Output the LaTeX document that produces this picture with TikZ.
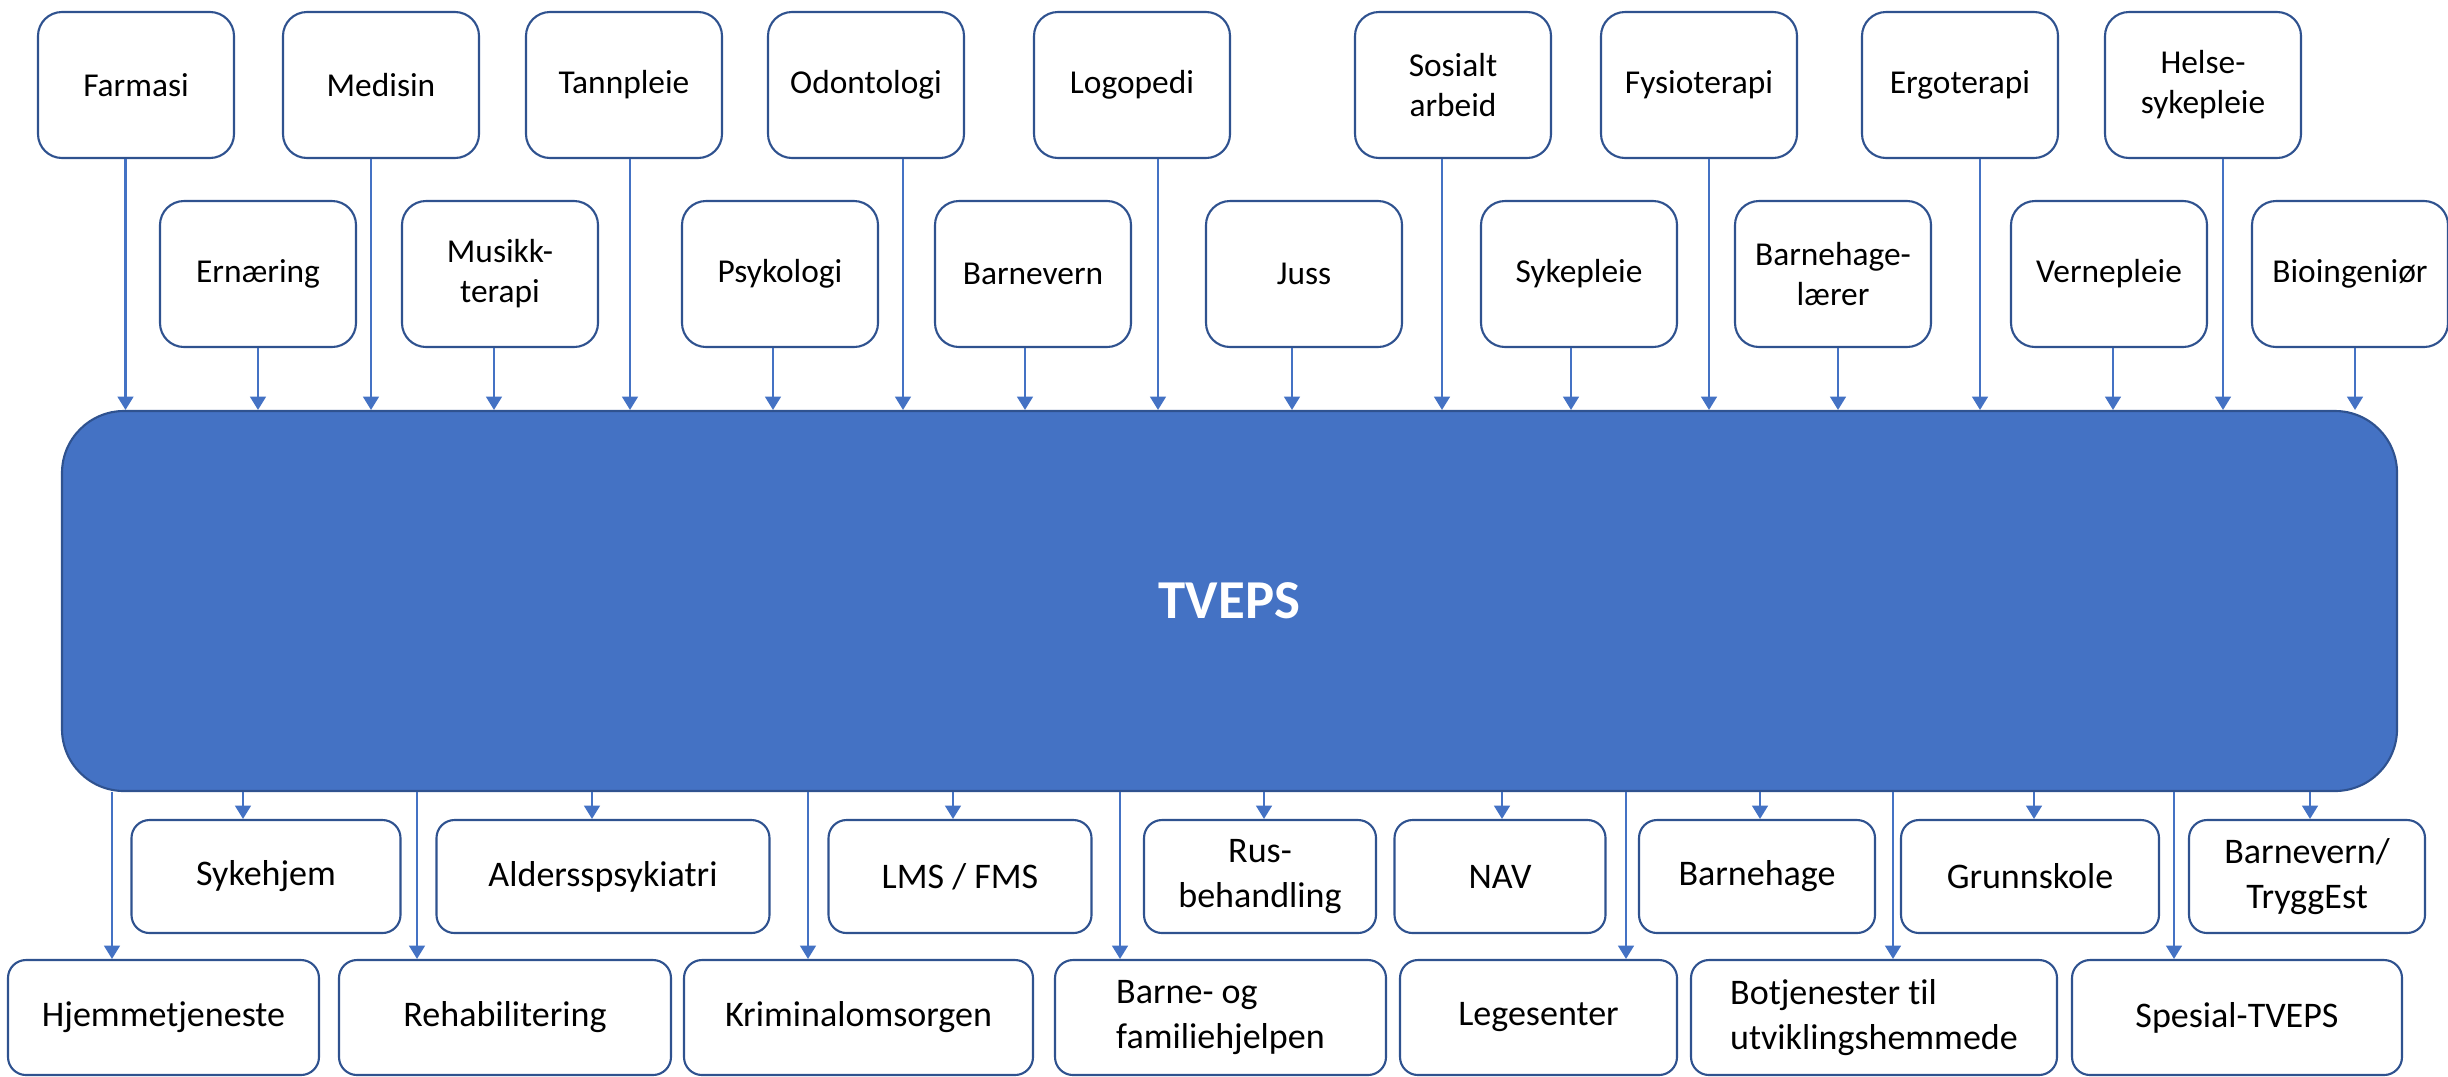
\documentclass[tikz,border=0pt]{standalone}
\usepackage{fontspec}
\setmainfont{Carlito}[Ligatures=NoCommon]
\usepackage{tikz}
\usetikzlibrary{arrows.meta}

\definecolor{kant}{HTML}{2F528F}
\definecolor{fyll}{HTML}{4472C4}

\begin{document}
\begin{tikzpicture}[->,>={Triangle[width=4.5pt,length=3.8pt]},
	fagnode/.style={rectangle,draw=kant,line width=0.6pt,rounded corners=0.24cm,minimum width=1.96cm,minimum height=1.46cm,align=center,font=\fontsize{9.5}{11.4}\selectfont},
	tjenestenode/.style={rectangle,draw=kant,line width=0.6pt,rounded corners=0.18cm,minimum height=1.13cm,align=center,font=\fontsize{10.25}{12.8}\selectfont},
	hovednode/.style={rectangle,draw=kant,fill=fyll,line width=0.6pt,rounded corners=0.62cm,minimum width=23.35cm,minimum height=3.8cm,text=white,font=\fontsize{15.6}{18}\selectfont\bfseries},
	pil/.style={draw=fyll,line width=0.6pt}]
	
	\useasboundingbox (0,0) rectangle (24.48,-10.76);
	
	% utdanninger, øverste rad
	\node [fagnode] (farmasi) at (1.36, -0.85) {Farmasi};
	\node [fagnode] (medisin) at (3.81, -0.85) {Medisin};
	\node [fagnode] (tannpleie) at (6.24, -0.85) {Tannpleie};
	\node [fagnode] (odontologi) at (8.66, -0.85) {Odontologi};
	\node [fagnode] (logopedi) at (11.32, -0.85) {Logopedi};
	\node [fagnode] (sosialt) at (14.53, -0.85) {Sosialt\\arbeid};
	\node [fagnode] (fysio) at (16.99, -0.85) {Fysioterapi};
	\node [fagnode] (ergo) at (19.60, -0.85) {Ergoterapi};
	\node [fagnode] (helse) at (22.03, -0.85) {Helse-\\sykepleie};
	
	% utdanninger, andre rad
	\node [fagnode] (ernaering) at (2.58, -2.74) {Ernæring};
	\node [fagnode] (musikk) at (5.00, -2.74) {Musikk-\\terapi};
	\node [fagnode] (psykologi) at (7.80, -2.74) {Psykologi};
	\node [fagnode] (barnevern) at (10.33, -2.74) {Barnevern};
	\node [fagnode] (juss) at (13.04, -2.74) {Juss};
	\node [fagnode] (sykepleie) at (15.79, -2.74) {Sykepleie};
	\node [fagnode] (bhglaerer) at (18.33, -2.74) {Barnehage-\\lærer};
	\node [fagnode] (vernepleie) at (21.09, -2.74) {Vernepleie};
	\node [fagnode] (bioing) at (23.50, -2.74) {Bioingeniør};
	
	\node [hovednode] (tveps) at (12.295, -6.01) {TVEPS};
	
	% praksissteder, første rad
	\node [tjenestenode, minimum width=2.69cm] (sykehjem) at (2.66, -8.765) {Sykehjem};
	\node [tjenestenode, minimum width=3.33cm] (alder) at (6.03, -8.765) {Aldersspsykiatri};
	\node [tjenestenode, minimum width=2.63cm] (lms) at (9.60, -8.765) {LMS / FMS};
	\node [tjenestenode, minimum width=2.32cm] (rus) at (12.60, -8.765) {Rus-\\behandling};
	\node [tjenestenode, minimum width=2.11cm] (nav) at (15.00, -8.765) {NAV};
	\node [tjenestenode, minimum width=2.36cm] (barnehage) at (17.57, -8.765) {Barnehage};
	\node [tjenestenode, minimum width=2.58cm] (grunnskole) at (20.30, -8.765) {Grunnskole};
	\node [tjenestenode, minimum width=2.36cm] (tryggest) at (23.07, -8.765) {Barnevern/\\TryggEst};
	
	% praksissteder, andre rad
	\node [tjenestenode, minimum width=3.11cm, minimum height=1.15cm] (hjemme) at (1.635, -10.175) {Hjemmetjeneste};
	\node [tjenestenode, minimum width=3.32cm, minimum height=1.15cm] (rehab) at (5.05, -10.175) {Rehabilitering};
	\node [tjenestenode, minimum width=3.49cm, minimum height=1.15cm] (krim) at (8.585, -10.175) {Kriminalomsorgen};
	\node [tjenestenode, minimum width=3.31cm, minimum height=1.15cm, align=left] (barnefam) at (12.205, -10.175) {Barne- og\\familiehjelpen};
	\node [tjenestenode, minimum width=2.77cm, minimum height=1.15cm] (lege) at (15.385, -10.175) {Legesenter};
	\node [tjenestenode, minimum width=3.66cm, minimum height=1.15cm, align=left] (botj) at (18.74, -10.175) {Botjenester til\\utviklingshemmede};
	\node [tjenestenode, minimum width=3.30cm, minimum height=1.15cm] (spesial) at (22.37, -10.175) {Spesial-TVEPS};
	
	\draw [pil] ([xshift=-1.05mm]farmasi.south) to ([xshift=-1.05mm]farmasi.south |- tveps.north);
	\draw [pil] ([xshift=-1mm]medisin.south) to ([xshift=-1mm]medisin.south |- tveps.north);
	\draw [pil] ([xshift=0.6mm]tannpleie.south) to ([xshift=0.6mm]tannpleie.south |- tveps.north);
	\draw [pil] ([xshift=3.7mm]odontologi.south) to ([xshift=3.7mm]odontologi.south |- tveps.north);
	\draw [pil] ([xshift=2.6mm]logopedi.south) to ([xshift=2.6mm]logopedi.south |- tveps.north);
	\draw [pil] ([xshift=-1.1mm]sosialt.south) to ([xshift=-1.1mm]sosialt.south |- tveps.north);
	\draw [pil] ([xshift=1mm]fysio.south) to ([xshift=1mm]fysio.south |- tveps.north);
	\draw [pil] ([xshift=2mm]ergo.south) to ([xshift=2mm]ergo.south |- tveps.north);
	\draw [pil] ([xshift=2mm]helse.south) to ([xshift=2mm]helse.south |- tveps.north);
	
	\draw [pil] (ernaering.south) to (ernaering.south |- tveps.north);
	\draw [pil] ([xshift=-0.6mm]musikk.south) to ([xshift=-0.6mm]musikk.south |- tveps.north);
	\draw [pil] ([xshift=-0.7mm]psykologi.south) to ([xshift=-0.7mm]psykologi.south |- tveps.north);
	\draw [pil] ([xshift=-0.8mm]barnevern.south) to ([xshift=-0.8mm]barnevern.south |- tveps.north);
	\draw [pil] ([xshift=-1.2mm]juss.south) to ([xshift=-1.2mm]juss.south |- tveps.north);
	\draw [pil] ([xshift=-0.8mm]sykepleie.south) to ([xshift=-0.8mm]sykepleie.south |- tveps.north);
	\draw [pil] ([xshift=0.5mm]bhglaerer.south) to ([xshift=0.5mm]bhglaerer.south |- tveps.north);
	\draw [pil] ([xshift=0.4mm]vernepleie.south) to ([xshift=0.4mm]vernepleie.south |- tveps.north);
	\draw [pil] ([xshift=0.5mm]bioing.south) to ([xshift=0.5mm]bioing.south |- tveps.north);
	
	\draw [pil] ([xshift=-2.3mm]sykehjem.north |- tveps.south) to ([xshift=-2.3mm]sykehjem.north);
	\draw [pil] ([xshift=-1.1mm]alder.north |- tveps.south) to ([xshift=-1.1mm]alder.north);
	\draw [pil] ([xshift=-0.7mm]lms.north |- tveps.south) to ([xshift=-0.7mm]lms.north);
	\draw [pil] ([xshift=0.4mm]rus.north |- tveps.south) to ([xshift=0.4mm]rus.north);
	\draw [pil] ([xshift=0.2mm]nav.north |- tveps.south) to ([xshift=0.2mm]nav.north);
	\draw [pil] ([xshift=0.3mm]barnehage.north |- tveps.south) to ([xshift=0.3mm]barnehage.north);
	\draw [pil] ([xshift=0.4mm]grunnskole.north |- tveps.south) to ([xshift=0.4mm]grunnskole.north);
	\draw [pil] ([xshift=0.3mm]tryggest.north |- tveps.south) to ([xshift=0.3mm]tryggest.north);
	
	\draw [pil] ([xshift=-5.15mm]hjemme.north |- tveps.south) to ([xshift=-5.15mm]hjemme.north);
	\draw [pil] ([xshift=-8.8mm]rehab.north |- tveps.south) to ([xshift=-8.8mm]rehab.north);
	\draw [pil] ([xshift=-5.05mm]krim.north |- tveps.south) to ([xshift=-5.05mm]krim.north);
	\draw [pil] ([xshift=-10.05mm]barnefam.north |- tveps.south) to ([xshift=-10.05mm]barnefam.north);
	\draw [pil] ([xshift=8.75mm]lege.north |- tveps.south) to ([xshift=8.75mm]lege.north);
	\draw [pil] ([xshift=1.9mm]botj.north |- tveps.south) to ([xshift=1.9mm]botj.north);
	\draw [pil] ([xshift=-6.3mm]spesial.north |- tveps.south) to ([xshift=-6.3mm]spesial.north);
\end{tikzpicture}
\end{document}
